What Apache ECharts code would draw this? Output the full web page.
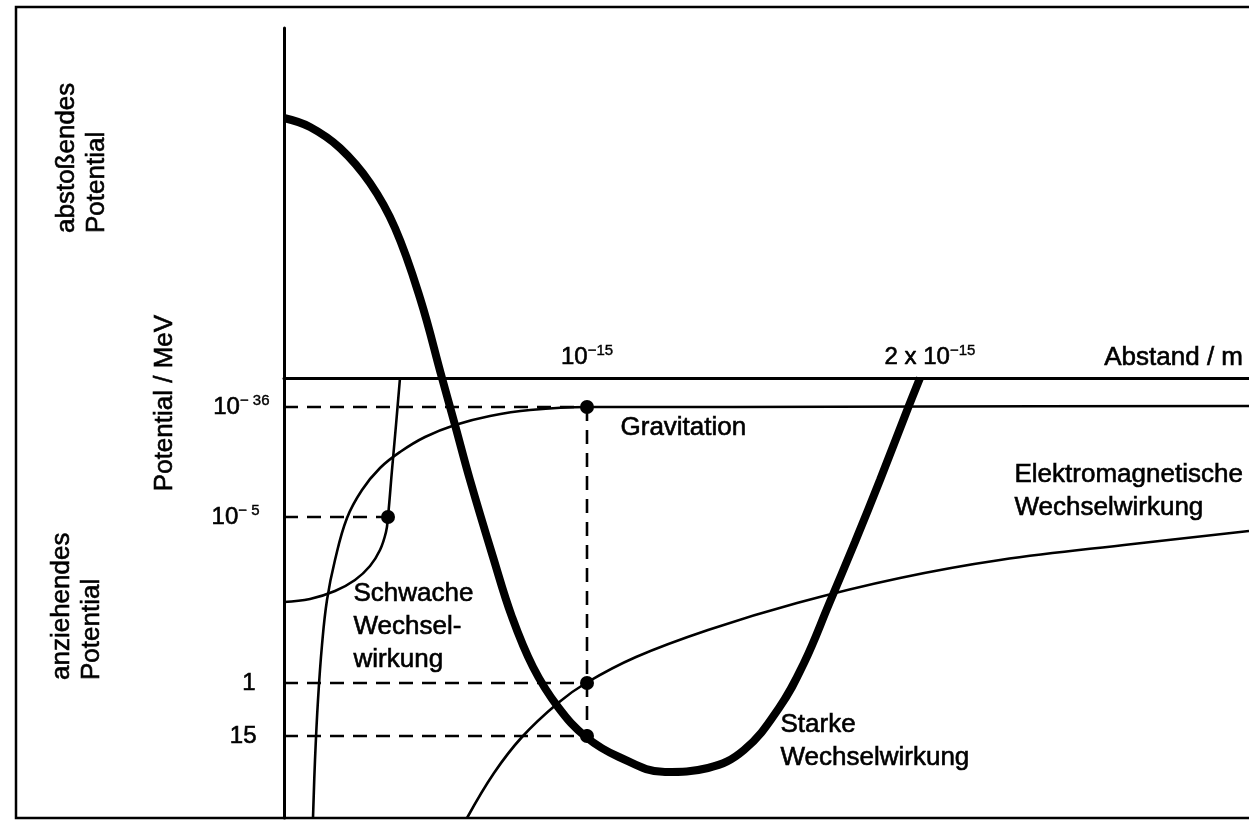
<!DOCTYPE html>
<html>
<head>
<meta charset="utf-8">
<script src="https://cdn.jsdelivr.net/npm/echarts@6/dist/echarts.min.js"></script>
<style>
html,body{margin:0;padding:0;background:#fff;}
#c{width:1249px;height:822px;}
</style>
</head>
<body>
<div id="c"></div>
<script>
// ---- Data (schematic units: x = distance, y = potential; 0 = axes) ----
const strongCurve = [
  [0,2.60],[0.26,2.51],[0.56,2.30],[0.86,1.95],[1.11,1.50],[1.36,0.80],[1.58,0],
  [1.71,-0.47],[1.86,-1.02],[2.09,-1.79],[2.28,-2.39],[2.49,-2.89],[2.74,-3.29],
  [3.02,-3.59],[3.35,-3.79],[3.81,-3.94],[4.24,-3.90],[4.60,-3.72],[4.95,-3.30],
  [5.20,-2.85],[5.45,-2.26],[5.71,-1.64],[5.96,-1.02],[6.24,-0.30],[6.36,0]
];
const weakCurve = [
  [0,-2.24],[0.26,-2.21],[0.51,-2.13],[0.71,-2.02],[0.86,-1.88],[0.96,-1.72],
  [1.02,-1.54],[1.04,-1.39],[1.08,-0.92],[1.12,-0.47],[1.16,0]
];
const gravitationCurve = [
  [0.29,-4.40],[0.31,-3.82],[0.34,-3.22],[0.38,-2.67],[0.43,-2.22],[0.51,-1.82],
  [0.63,-1.40],[0.78,-1.12],[0.96,-0.90],[1.16,-0.74],[1.41,-0.59],[1.71,-0.47],
  [2.06,-0.38],[2.46,-0.32],[3.03,-0.29],[4.50,-0.29],[6.50,-0.285],[9.65,-0.28]
];
const emCurve = [
  [1.83,-4.40],[2.10,-3.95],[2.38,-3.59],[2.74,-3.25],[3.02,-3.05],[3.52,-2.79],
  [4.24,-2.52],[5.13,-2.25],[6.16,-2.00],[7.16,-1.82],[8.49,-1.66],[9.65,-1.53]
];
const markedPoints = [[3.03,-0.29],[1.04,-1.39],[3.03,-3.05],[3.03,-3.58]];

const xTickBase = ['10', '2 x 10'];
const xTickExp = ['\u221215', '\u221215'];
const xTickPos = [3.03, 6.46];
const xAxisTitle = 'Abstand / m';
const xAxisTitlePos = 9.59;

const yTickBase = ['10', '10', '1', '15'];
const yTickExp = ['\u2212 36', '\u2212 5', '', ''];
const yTickPos = [-0.29, -1.39, -3.05, -3.58];

const curveLabels = ['Gravitation', 'Schwache\nWechsel-\nwirkung', 'Starke\nWechselwirkung', 'Elektromagnetische\nWechselwirkung'];
const curveLabelPos = [[3.36,-0.50],[0.69,-2.49],[4.96,-3.63],[7.30,-1.13]];

const yAxisTitle = 'Potential / MeV';
const repulsiveLabel = 'abstoßendes\nPotential';
const attractiveLabel = 'anziehendes\nPotential';

// ---- Styles ----
const FONT = "'Liberation Sans', Arial, Helvetica, sans-serif";
const INK = '#000';
const yTickGap = [14, 24, 28, 27];
const TB = {textBorderColor: INK, textBorderWidth: 0.6};

const chart = echarts.init(document.getElementById('c'), null, {renderer: 'canvas'});

const series = [];

// dashed helper lines derived from marked points
const dashStyle = {color: INK, width: 2.6, type: [14, 9]};
markedPoints.forEach(p => {
  series.push({type: 'line', data: [[0, p[1]], [p[0], p[1]]], symbol: 'none', silent: true,
    lineStyle: dashStyle, z: 2});
});
const byX = {};
markedPoints.forEach(p => { (byX[p[0]] = byX[p[0]] || []).push(p[1]); });
Object.keys(byX).forEach(k => {
  const ys = byX[k];
  if (ys.length > 1) {
    series.push({type: 'line', data: [[+k, Math.max(...ys)], [+k, Math.min(...ys)]], symbol: 'none',
      silent: true, lineStyle: dashStyle, z: 2});
  }
});

const thin = {color: INK, width: 2.6};
series.push({name: 'Gravitation', type: 'line', data: gravitationCurve, smooth: 0.4, symbol: 'none', lineStyle: thin, z: 3, silent: true});
series.push({name: 'Schwache', type: 'line', data: weakCurve, smooth: 0.4, symbol: 'none', lineStyle: thin, z: 3, silent: true});
series.push({name: 'EM', type: 'line', data: emCurve, smooth: 0.4, symbol: 'none', lineStyle: thin, z: 3, silent: true});
series.push({name: 'Starke', type: 'line', data: strongCurve, smooth: 0.4, symbol: 'none',
  lineStyle: {color: INK, width: 8, cap: 'butt'}, z: 4, silent: true});

series.push({type: 'scatter', data: markedPoints, symbol: 'circle', symbolSize: 14,
  itemStyle: {color: INK, opacity: 1}, z: 6, silent: true});

const hidden = {color: 'rgba(0,0,0,0)', opacity: 1};

// x tick labels (above the axis)
const richTick = {
  b: Object.assign({fontSize: 24, fontFamily: FONT, color: INK, lineHeight: 28}, TB),
  s: Object.assign({fontSize: 15, fontFamily: FONT, color: INK, lineHeight: 14, verticalAlign: 'top'}, TB, {textBorderWidth: 0.4})
};
series.push({type: 'scatter', symbolSize: 1, itemStyle: hidden, silent: true, clip: false, z: 7,
  data: xTickPos.map(x => [x, 0]),
  label: {show: true, position: 'top', distance: 6,
    formatter: p => '{b|' + xTickBase[p.dataIndex] + '}{s|' + xTickExp[p.dataIndex] + '}',
    rich: richTick}
});
series.push({type: 'scatter', symbolSize: 1, itemStyle: hidden, silent: true, clip: false, z: 7,
  data: [[xAxisTitlePos, 0]],
  label: Object.assign({show: true, position: 'top', distance: 7, align: 'right',
    formatter: () => xAxisTitle, fontSize: 26, fontFamily: FONT, color: INK}, TB)
});
// y tick labels (left of the axis)
series.push({type: 'scatter', symbolSize: 1, itemStyle: hidden, silent: true, clip: false, z: 7,
  data: yTickPos.map((y, i) => ({value: [0, y], label: {distance: yTickGap[i]}})),
  label: {show: true, position: 'left',
    formatter: p => '{b|' + yTickBase[p.dataIndex] + '}' + (yTickExp[p.dataIndex] ? '{s|' + yTickExp[p.dataIndex] + '}' : ''),
    rich: richTick}
});
// curve annotations
series.push({type: 'scatter', symbolSize: 1, itemStyle: hidden, silent: true, clip: false, z: 7,
  data: curveLabelPos,
  label: Object.assign({show: true, position: 'right', distance: 0,
    formatter: p => curveLabels[p.dataIndex],
    fontSize: 26, lineHeight: 33, fontFamily: FONT, color: INK}, TB)
});

const gtext = (text, x, y, align, lh) => ({type: 'text', x: x, y: y, rotation: Math.PI / 2, silent: true,
  style: {text: text, fontSize: 26, lineHeight: lh, fontFamily: FONT, fill: INK,
    stroke: INK, lineWidth: 0.6, align: align, verticalAlign: 'middle'}});

const option = {
  animation: false,
  backgroundColor: '#fff',
  grid: {left: 284, right: 0, top: 28, bottom: 4, containLabel: false},
  xAxis: {type: 'value', min: 0, max: 9.65,
    axisLine: {show: true, onZero: true, lineStyle: {color: INK, width: 3}},
    axisTick: {show: false}, axisLabel: {show: false}, splitLine: {show: false}},
  yAxis: {type: 'value', min: -4.4, max: 3.5,
    axisLine: {show: true, onZero: true, lineStyle: {color: INK, width: 3}},
    axisTick: {show: false}, axisLabel: {show: false}, splitLine: {show: false}},
  graphic: [
    {type: 'rect', shape: {x: 16, y: 7, width: 1270, height: 811}, silent: true,
      style: {fill: 'none', stroke: INK, lineWidth: 2.5}, z: 1},
    gtext(repulsiveLabel, 82, 233, 'left', 30),
    gtext(attractiveLabel, 77, 680, 'left', 30),
    gtext(yAxisTitle, 165, 403, 'center', 30)
  ],
  series: series
};
chart.setOption(option);
</script>
</body>
</html>
